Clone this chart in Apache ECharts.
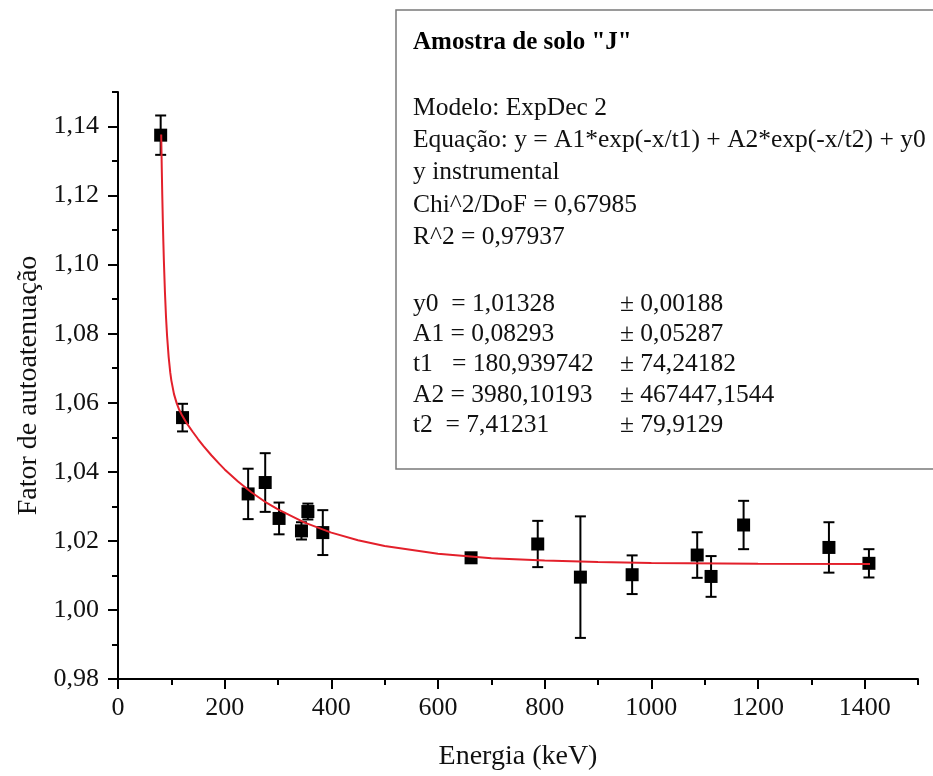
<!DOCTYPE html>
<html>
<head>
<meta charset="utf-8">
<script src="https://cdn.jsdelivr.net/npm/echarts@6/dist/echarts.min.js"></script>
<style>
  html, body { margin: 0; padding: 0; background: #ffffff; }
  #chart { width: 933px; height: 776px; }
</style>
</head>
<body>
<div id="chart"></div>
<script>
// ---- Data ----
const energy = [80, 121, 244, 276, 302, 344, 356, 384, 662, 787, 867, 964, 1086, 1112, 1173, 1333, 1408];
const factor = [1.1375, 1.0557, 1.0336, 1.0369, 1.0265, 1.0229, 1.0285, 1.0224, 1.0151, 1.0191, 1.0095, 1.0102, 1.0159, 1.0097, 1.0246, 1.0181, 1.0135];
const factorErr = [0.0057, 0.0040, 0.0073, 0.0085, 0.0046, 0.0025, 0.0023, 0.0065, 0.0010, 0.0067, 0.0176, 0.0056, 0.0066, 0.0059, 0.0070, 0.0073, 0.0041];

// fitted curve (red line)
const fitX = [81, 82, 83, 84, 85, 86, 88, 90, 92, 95, 98, 100, 105, 110, 115, 120, 130, 140, 150, 160, 175, 190, 200, 225, 250, 275, 300, 350, 400, 450, 500, 600, 700, 800, 900, 1000, 1200, 1410];
const fitY = [1.1377, 1.1284, 1.1202, 1.1131, 1.1068, 1.1012, 1.0921, 1.0849, 1.0794, 1.0732, 1.0687, 1.0665, 1.0625, 1.0599, 1.0579, 1.0564, 1.0538, 1.0516, 1.0495, 1.0475, 1.0448, 1.0423, 1.0407, 1.0372, 1.0341, 1.0314, 1.0291, 1.0253, 1.0224, 1.0202, 1.0185, 1.0163, 1.0150, 1.0143, 1.0139, 1.0136, 1.0134, 1.0133];

const xTickValues = [0, 200, 400, 600, 800, 1000, 1200, 1400];
const yTickValues = [0.98, 1.00, 1.02, 1.04, 1.06, 1.08, 1.10, 1.12, 1.14];

const boxTitle = 'Amostra de solo "J"';
const boxLines = ['Modelo: ExpDec 2', 'Equação: y = A1*exp(-x/t1) + A2*exp(-x/t2) + y0', 'y instrumental', 'Chi^2/DoF = 0,67985', 'R^2 = 0,97937'];
const paramNames = ['y0  = 1,01328', 'A1 = 0,08293', 't1   = 180,939742', 'A2 = 3980,10193', 't2  = 7,41231'];
const paramErrs = ['± 0,00188', '± 0,05287', '± 74,24182', '± 467447,1544', '± 79,9129'];

// ---- Build ----
const FONT = '"Liberation Serif", "Times New Roman", serif';
const scatterData = energy.map((e, i) => [e, factor[i]]);
const errData = energy.map((e, i) => [e, factor[i], factorErr[i]]);
const fitData = fitX.map((x, i) => [x, fitY[i]]);

const chart = echarts.init(document.getElementById('chart'), null, { renderer: 'canvas' });

const graphics = [
  { type: 'rect', shape: { x: 396, y: 10, width: 560, height: 459 }, style: { fill: '#fff', stroke: '#7a7a7a', lineWidth: 1.5 }, z: 10 },
  { type: 'text', x: 413, y: 43, style: { text: boxTitle, font: 'bold 25px ' + FONT, fill: '#000', verticalAlign: 'middle' }, z: 11 }
];
const lineYs = [108, 140, 172, 205, 237];
boxLines.forEach((t, i) => graphics.push({ type: 'text', x: 413, y: lineYs[i], style: { text: t, font: '25.5px ' + FONT, fill: '#111', verticalAlign: 'middle' }, z: 11 }));
const paramYs = [304, 334, 364, 395, 425];
paramNames.forEach((t, i) => graphics.push({ type: 'text', x: 413, y: paramYs[i], style: { text: t, font: '25.5px ' + FONT, fill: '#111', verticalAlign: 'middle' }, z: 11 }));
paramErrs.forEach((t, i) => graphics.push({ type: 'text', x: 620, y: paramYs[i], style: { text: t, font: '25.5px ' + FONT, fill: '#111', verticalAlign: 'middle' }, z: 11 }));

const option = {
  backgroundColor: '#ffffff',
  animation: false,
  grid: { left: 118, right: 15, top: 92, bottom: 92, containLabel: false },
  xAxis: [
    {
      type: 'value', min: 0, max: 1500, interval: 100,
      name: 'Energia (keV)', nameLocation: 'middle', nameGap: 64,
      nameTextStyle: { fontFamily: FONT, fontSize: 28, color: '#111' },
      axisLine: { show: true, onZero: false, lineStyle: { color: '#000', width: 2 } },
      axisTick: { show: true, length: 6, lineStyle: { color: '#000', width: 2 } },
      axisLabel: { customValues: xTickValues, margin: 16, fontFamily: FONT, fontSize: 26, color: '#111', formatter: v => String(v) },
      splitLine: { show: false }
    },
    {
      type: 'value', min: 0, max: 1500, position: 'bottom',
      axisLine: { show: false },
      axisTick: { show: true, customValues: xTickValues, length: 10, lineStyle: { color: '#000', width: 2 } },
      axisLabel: { show: false },
      splitLine: { show: false }
    }
  ],
  yAxis: [
    {
      type: 'value', min: 0.98, max: 1.15, interval: 0.01,
      name: 'Fator de autoatenuação', nameLocation: 'middle', nameGap: 74, nameRotate: 90,
      nameTextStyle: { fontFamily: FONT, fontSize: 28, color: '#111' },
      axisLine: { show: true, onZero: false, lineStyle: { color: '#000', width: 2 } },
      axisTick: { show: true, length: 6, lineStyle: { color: '#000', width: 2 } },
      axisLabel: { customValues: yTickValues, margin: 19, fontFamily: FONT, fontSize: 26, color: '#111', formatter: v => v.toFixed(2).replace('.', ',') },
      splitLine: { show: false }
    },
    {
      type: 'value', min: 0.98, max: 1.15, position: 'left',
      axisLine: { show: false },
      axisTick: { show: true, customValues: yTickValues, length: 10, lineStyle: { color: '#000', width: 2 } },
      axisLabel: { show: false },
      splitLine: { show: false }
    }
  ],
  graphic: graphics,
  series: [
    {
      type: 'custom',
      xAxisIndex: 0, yAxisIndex: 0,
      data: errData,
      renderItem: function (params, api) {
        const x = api.value(0), y = api.value(1), e = api.value(2);
        const top = api.coord([x, y + e]);
        const bot = api.coord([x, y - e]);
        const hw = 5.5;
        const st = { stroke: '#000', lineWidth: 2 };
        return {
          type: 'group',
          children: [
            { type: 'line', shape: { x1: top[0], y1: top[1], x2: bot[0], y2: bot[1] }, style: st },
            { type: 'line', shape: { x1: top[0] - hw, y1: top[1], x2: top[0] + hw, y2: top[1] }, style: st },
            { type: 'line', shape: { x1: bot[0] - hw, y1: bot[1], x2: bot[0] + hw, y2: bot[1] }, style: st }
          ]
        };
      },
      z: 2
    },
    {
      type: 'scatter', xAxisIndex: 0, yAxisIndex: 0,
      data: scatterData, symbol: 'rect', symbolSize: 13,
      itemStyle: { color: '#000', opacity: 1 }, z: 3
    },
    {
      type: 'line', xAxisIndex: 0, yAxisIndex: 0,
      data: fitData, showSymbol: false, smooth: false,
      lineStyle: { color: '#e3202b', width: 2 }, z: 4
    }
  ]
};
chart.setOption(option);
</script>
</body>
</html>
